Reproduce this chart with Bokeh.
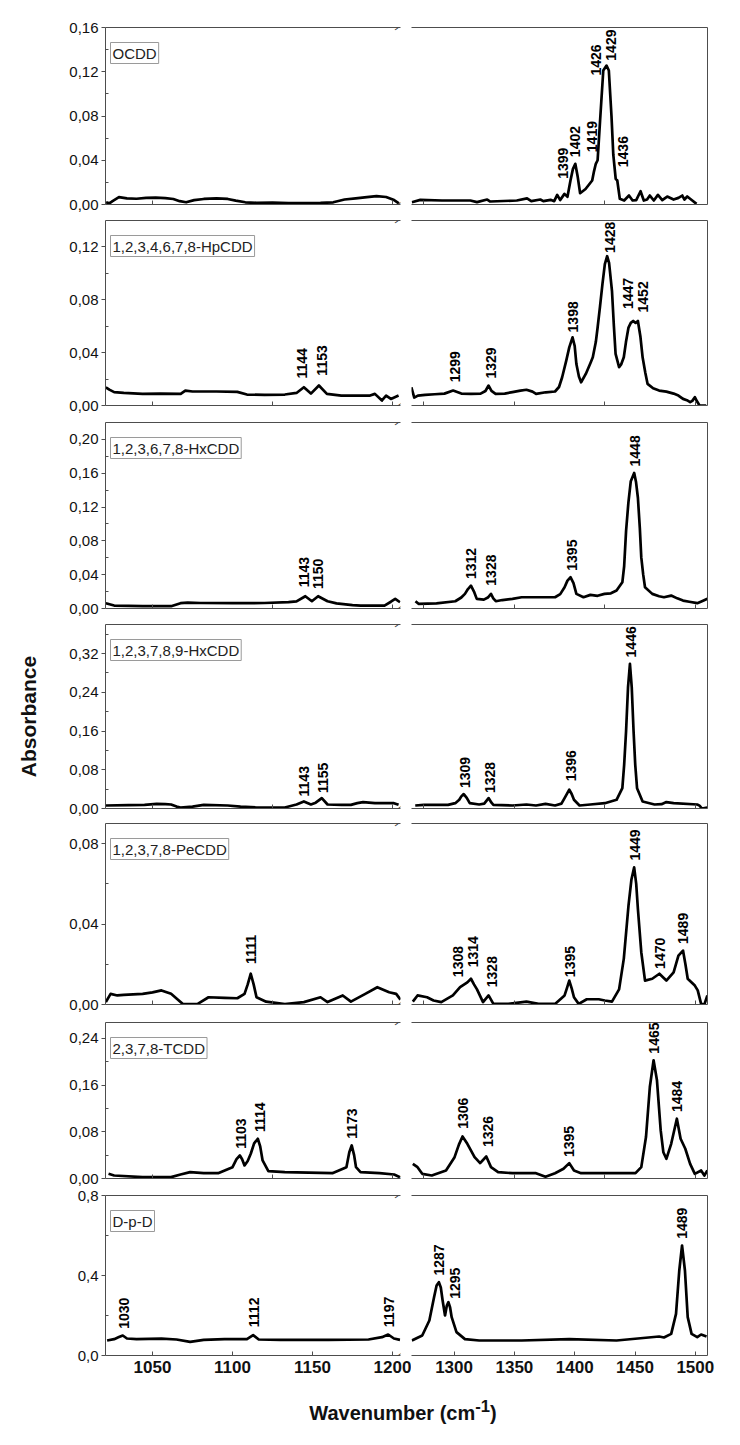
import math
from bokeh.plotting import figure
from bokeh.models import (Range1d, LinearAxis, FixedTicker, CustomJSTickFormatter,
                          Label, ColumnDataSource, Div)
from bokeh.layouts import column, row
from bokeh.core.properties import value
from bokeh.embed import file_html
from bokeh.resources import INLINE

# ------------------------------------------------------------------ data
PANEL_NAMES = ["OCDD", "1,2,3,4,6,7,8-HpCDD", "1,2,3,6,7,8-HxCDD",
               "1,2,3,7,8,9-HxCDD", "1,2,3,7,8-PeCDD", "2,3,7,8-TCDD", "D-p-D"]

# (wavenumber, absorbance); left = 1020-1205, right = 1265-1510
OCDD_LEFT = [(1021, 0.002), (1023, 0.001), (1025, 0.003), (1029, 0.0066), (1034, 0.0055),
             (1040, 0.0052), (1046, 0.006), (1052, 0.0062), (1058, 0.0058), (1063, 0.005),
             (1067, 0.003), (1071, 0.002), (1076, 0.004), (1082, 0.005), (1090, 0.0055),
             (1097, 0.005), (1102, 0.0035), (1108, 0.002), (1115, 0.0015), (1125, 0.0018),
             (1135, 0.0012), (1145, 0.0012), (1155, 0.0015), (1163, 0.002), (1170, 0.0045),
             (1177, 0.0055), (1184, 0.0066), (1190, 0.0075), (1196, 0.0068), (1201, 0.004),
             (1204, 0.001)]
OCDD_RIGHT = [(1265, 0.0021), (1272, 0.0042), (1290, 0.0036), (1313.5, 0.0036), (1319, 0.0021),
              (1327.5, 0.0045), (1330, 0.0027), (1352, 0.0036), (1360.5, 0.0055), (1364, 0.003),
              (1371.5, 0.0045), (1374, 0.003), (1380, 0.0042), (1383, 0.003), (1385.5, 0.0087),
              (1388, 0.004), (1391.5, 0.0096), (1394, 0.007), (1396.5, 0.0217), (1398.5, 0.032),
              (1400.5, 0.0368), (1402.5, 0.025), (1404.5, 0.0102), (1409, 0.014), (1414.5, 0.0217),
              (1416, 0.03), (1417.5, 0.0368), (1419, 0.04), (1421, 0.075), (1423.7, 0.1211),
              (1426.4, 0.1256), (1428.3, 0.1211), (1430.5, 0.08), (1432, 0.045), (1434, 0.0232),
              (1435.3, 0.0217), (1437.4, 0.0051), (1441, 0.0036), (1445, 0.0081), (1448, 0.0036),
              (1451, 0.004), (1454.6, 0.012), (1457.3, 0.0036), (1460, 0.0045), (1462.3, 0.0081),
              (1465.6, 0.0036), (1469, 0.0087), (1472.6, 0.004), (1476.7, 0.0072), (1482, 0.0045),
              (1486, 0.006), (1489.2, 0.0081), (1491, 0.0045), (1493.3, 0.0072), (1497.5, 0.0036),
              (1501, 0.0006)]
OCDD_PEAKS = [("1399", 1390.5, 0.0232), ("1402", 1399.9, 0.0428), ("1419", 1414.5, 0.0473),
              ("1426", 1417.3, 0.1166), ("1429", 1430.3, 0.130), ("1436", 1439.9, 0.0337)]

HPCDD_LEFT = [(1020.8, 0.0138), (1023, 0.012), (1026, 0.0101), (1032, 0.0095), (1043.8, 0.0088),
              (1055, 0.009), (1067.6, 0.0088), (1070.5, 0.0113), (1075, 0.0106), (1090, 0.0106),
              (1103, 0.0103), (1109, 0.0083), (1120, 0.008), (1132.7, 0.0083), (1140, 0.0095),
              (1144.6, 0.0138), (1149, 0.009), (1154, 0.0151), (1159, 0.0088), (1168, 0.0075),
              (1178, 0.0075), (1186, 0.0075), (1189, 0.0088), (1193.4, 0.0038), (1196, 0.0075),
              (1199, 0.005), (1203.8, 0.0075)]
HPCDD_RIGHT = [(1264.6, 0.0138), (1267, 0.006), (1270, 0.0075), (1276, 0.008), (1284, 0.0085),
               (1292, 0.009), (1299.2, 0.0113), (1306, 0.009), (1314, 0.0088), (1322, 0.009),
               (1326, 0.011), (1328.6, 0.0151), (1331, 0.011), (1334.4, 0.0088), (1342, 0.009),
               (1348.4, 0.0101), (1355, 0.0113), (1360, 0.0119), (1365, 0.0105), (1368, 0.0088),
               (1376, 0.01), (1383.7, 0.0106), (1387, 0.014), (1389.6, 0.0214), (1393, 0.034),
               (1395.5, 0.044), (1398.2, 0.0516), (1400, 0.045), (1401.4, 0.0314), (1403.5, 0.022),
               (1405.3, 0.0176), (1409.2, 0.0239), (1413, 0.032), (1415, 0.0365), (1417.5, 0.048),
               (1419, 0.059), (1421, 0.075), (1423, 0.0918), (1425, 0.107), (1426.9, 0.113),
               (1428.5, 0.108), (1430.9, 0.0868), (1432.5, 0.06), (1433.9, 0.039), (1436.8, 0.029),
               (1438.5, 0.031), (1440.7, 0.0365), (1442.5, 0.048), (1444.6, 0.059), (1446.5, 0.0625),
               (1448.5, 0.064), (1450.5, 0.0625), (1452.4, 0.064), (1454.5, 0.052), (1456.3, 0.0365),
               (1458.5, 0.025), (1460.4, 0.0164), (1465, 0.013), (1470, 0.0113), (1476, 0.0105),
               (1482, 0.009), (1486, 0.0075), (1489.8, 0.005), (1493, 0.004), (1495.7, 0.0025),
               (1497.5, 0.0035), (1499.6, 0.0063), (1501.5, 0.003), (1503.5, 0.0), (1509, 0.0)]
HPCDD_PEAKS = [("1144", 1143.7, 0.0204), ("1153", 1155.8, 0.0226), ("1299", 1301, 0.0176),
               ("1329", 1330.6, 0.0204), ("1398", 1398.6, 0.0553), ("1428", 1428.9, 0.1155),
               ("1447", 1444.6, 0.073), ("1452", 1456.3, 0.0704)]

HXCDD678_LEFT = [(1020.8, 0.0063), (1026, 0.0035), (1043.8, 0.0027), (1061.6, 0.0027),
                 (1067.5, 0.0063), (1072, 0.007), (1080, 0.0065), (1100, 0.0063), (1120, 0.0065),
                 (1135, 0.0075), (1140, 0.0085), (1145.5, 0.0145), (1149.6, 0.0086), (1153.5, 0.0145),
                 (1159.4, 0.0086), (1165, 0.006), (1175, 0.004), (1180, 0.0035), (1195, 0.0035),
                 (1199, 0.008), (1201.7, 0.0114), (1204.7, 0.0074)]
HXCDD678_RIGHT = [(1268, 0.0086), (1270.5, 0.0055), (1285.4, 0.006), (1301, 0.0086), (1306, 0.013),
                  (1309, 0.0173), (1311.5, 0.023), (1314, 0.027), (1316.5, 0.02), (1318.8, 0.0114),
                  (1324.7, 0.0105), (1328, 0.013), (1330.6, 0.0173), (1332.5, 0.012), (1334.6, 0.0086),
                  (1340, 0.01), (1348.4, 0.0114), (1356, 0.0133), (1370, 0.0133), (1383.7, 0.0133),
                  (1388, 0.017), (1391.6, 0.0251), (1394, 0.033), (1396.6, 0.0369), (1399, 0.03),
                  (1401.4, 0.0173), (1407.3, 0.0133), (1413, 0.0161), (1419, 0.015), (1424.7, 0.0173),
                  (1430, 0.018), (1434.7, 0.0212), (1439.5, 0.031), (1441, 0.05), (1442.6, 0.0918),
                  (1444.5, 0.125), (1446.5, 0.1506), (1449.3, 0.1604), (1450.8, 0.15), (1452.4, 0.131),
                  (1454, 0.095), (1455.2, 0.0604), (1456.8, 0.04), (1458.3, 0.0251), (1464.3, 0.0173),
                  (1470, 0.0145), (1474, 0.0133), (1480, 0.0153), (1485, 0.012), (1489.8, 0.0094),
                  (1495, 0.008), (1501.6, 0.0063), (1505.5, 0.0086), (1510, 0.0114)]
HXCDD678_PEAKS = [("1143", 1144.6, 0.0251), ("1150", 1153.5, 0.0231), ("1312", 1314, 0.0349),
                  ("1328", 1330.6, 0.027), ("1395", 1397.4, 0.0447), ("1448", 1449.6, 0.168)]

HXCDD789_LEFT = [(1020.8, 0.0062), (1035, 0.007), (1045, 0.0076), (1052.6, 0.0097), (1058, 0.009),
                 (1061.6, 0.0083), (1065, 0.004), (1067.5, 0.0021), (1075, 0.004), (1082, 0.0076),
                 (1097, 0.0062), (1105, 0.004), (1115, 0.0021), (1132.7, 0.0021), (1140, 0.0083),
                 (1144.6, 0.0145), (1149, 0.0083), (1152, 0.012), (1155.8, 0.0215), (1159.4, 0.0083),
                 (1168, 0.0076), (1174, 0.0076), (1178, 0.011), (1181.6, 0.0132), (1189, 0.011),
                 (1200.9, 0.011), (1203.8, 0.0076)]
HXCDD789_RIGHT = [(1267.8, 0.0062), (1275, 0.0076), (1295, 0.0076), (1301, 0.011), (1304.3, 0.018),
                  (1306, 0.025), (1308, 0.0298), (1310.5, 0.022), (1313, 0.011), (1320.8, 0.0083),
                  (1325, 0.01), (1328.6, 0.0215), (1331, 0.012), (1332.6, 0.0076), (1348.4, 0.0062),
                  (1360, 0.0083), (1367.9, 0.0062), (1375.8, 0.0097), (1383.7, 0.0062), (1389, 0.01),
                  (1391.6, 0.0215), (1395.5, 0.0388), (1397.5, 0.03), (1399.4, 0.018), (1404, 0.0062),
                  (1413, 0.0083), (1425, 0.011), (1434.7, 0.018), (1439.5, 0.042), (1441, 0.09),
                  (1442.6, 0.16), (1444.2, 0.25), (1445.8, 0.2985), (1447.3, 0.25), (1448.8, 0.16),
                  (1450.2, 0.09), (1451.7, 0.042), (1456.3, 0.0145), (1466.2, 0.0083), (1472, 0.009),
                  (1476, 0.0132), (1482, 0.011), (1501.6, 0.0083), (1503.5, 0.006), (1505.5, 0.0),
                  (1510, 0.0021)]
HXCDD789_PEAKS = [("1143", 1144.6, 0.0249), ("1155", 1156.4, 0.0319), ("1309", 1309, 0.0423),
                  ("1328", 1329.4, 0.0319), ("1396", 1396.6, 0.0561), ("1446", 1446.5, 0.312)]

PECDD_LEFT = [(1020.8, 0.0012), (1023.8, 0.0053), (1028, 0.0045), (1032, 0.0048), (1043.8, 0.0053),
              (1050, 0.006), (1055.6, 0.007), (1061.6, 0.0053), (1065, 0.003), (1069, 0.0002),
              (1078, 0.0002), (1085, 0.0036), (1095, 0.0033), (1103, 0.0031), (1107.5, 0.0053),
              (1109.5, 0.01), (1111.4, 0.0153), (1113.2, 0.01), (1115, 0.0036), (1121, 0.0014),
              (1132.7, 0.0002), (1144.6, 0.0012), (1155, 0.0036), (1159.4, 0.0012), (1168.9, 0.0045),
              (1174, 0.0014), (1183, 0.0053), (1190.5, 0.0086), (1197.9, 0.0061), (1202.3, 0.0053),
              (1205, 0.0024)]
PECDD_RIGHT = [(1265.8, 0.0014), (1269.7, 0.0045), (1277.6, 0.0036), (1283, 0.002), (1289.4, 0.0012),
               (1299, 0.0045), (1305, 0.0086), (1311, 0.011), (1314, 0.0128), (1316.5, 0.01),
               (1319, 0.0075), (1324, 0.0012), (1328.6, 0.0045), (1332.6, 0.0003), (1345, 0.0003),
               (1360, 0.0014), (1370, 0.0003), (1383.7, 0.0003), (1391.6, 0.0045), (1393.5, 0.008),
               (1395.5, 0.0119), (1397.5, 0.008), (1399.4, 0.0036), (1403.3, 0.0003), (1410, 0.0026),
               (1420, 0.0026), (1425, 0.002), (1430.9, 0.0014), (1436.8, 0.0075), (1440.7, 0.0227),
               (1444.6, 0.0492), (1447, 0.062), (1449.3, 0.0682), (1451, 0.06), (1452.4, 0.0475),
               (1455.2, 0.026), (1458.3, 0.0119), (1464.3, 0.0128), (1470.2, 0.0153), (1476, 0.0119),
               (1482, 0.016), (1486, 0.0243), (1489.8, 0.0268), (1491.8, 0.02), (1493.7, 0.0128),
               (1499.6, 0.0094), (1502, 0.007), (1504.8, 0.0003), (1507.5, 0.0), (1510, 0.0045)]
PECDD_PEAKS = [("1111", 1111.4, 0.0202), ("1308", 1303, 0.0136), ("1314", 1315.6, 0.0185),
               ("1328", 1331.4, 0.0086), ("1395", 1396.3, 0.0136), ("1449", 1450.4, 0.0716),
               ("1470", 1470.9, 0.0177), ("1489", 1489.8, 0.0301)]

TCDD_LEFT = [(1022.5, 0.008), (1026, 0.0051), (1043.8, 0.0023), (1061.6, 0.0023), (1067.5, 0.0068),
             (1073.5, 0.0109), (1082, 0.0091), (1091, 0.0091), (1100, 0.0194), (1102.5, 0.033),
             (1104.6, 0.0394), (1106, 0.033), (1107.5, 0.0223), (1109.5, 0.03), (1111.4, 0.0423),
             (1113.5, 0.06), (1115.8, 0.068), (1117.3, 0.055), (1118.8, 0.0309), (1122.4, 0.0126),
             (1132.7, 0.0109), (1162.4, 0.0091), (1171.2, 0.0194), (1173, 0.045), (1174.5, 0.0566),
             (1176, 0.04), (1177.2, 0.0194), (1180, 0.0109), (1191.9, 0.0091), (1201, 0.0068),
             (1204.7, 0.0023)]
TCDD_RIGHT = [(1265.8, 0.0251), (1269.7, 0.0194), (1273.6, 0.008), (1281.5, 0.0051), (1293.3, 0.0137),
              (1300.4, 0.0365), (1304, 0.058), (1307, 0.072), (1311, 0.0594), (1317, 0.0365),
              (1321.6, 0.0263), (1326.7, 0.0377), (1330.6, 0.0194), (1336.5, 0.0109), (1348.4, 0.0091),
              (1367.9, 0.0091), (1375.8, 0.0029), (1383.7, 0.0091), (1390.7, 0.0166), (1395.5, 0.0263),
              (1399.4, 0.0137), (1405.3, 0.0091), (1420, 0.0091), (1440, 0.0091), (1450.4, 0.0091),
              (1455.2, 0.0194), (1459.1, 0.0709), (1462.3, 0.1566), (1465.4, 0.2023), (1468.2, 0.168),
              (1471.3, 0.0823), (1473.5, 0.045), (1476, 0.0337), (1480, 0.0594), (1484.7, 0.1023),
              (1487.8, 0.068), (1491.7, 0.0509), (1495.7, 0.0251), (1499.6, 0.008), (1504.8, 0.0137),
              (1507.5, 0.0051), (1510, 0.0137)]
TCDD_PEAKS = [("1103", 1105.2, 0.0509), ("1114", 1117, 0.0794), ("1173", 1174.8, 0.068),
              ("1306", 1307, 0.0851), ("1326", 1328, 0.0537), ("1395", 1395.5, 0.0366),
              ("1465", 1465.4, 0.2137), ("1484", 1485.1, 0.1137)]

DPD_LEFT = [(1021.6, 0.075), (1026, 0.0817), (1029, 0.092), (1031.4, 0.1), (1034, 0.085),
            (1040, 0.082), (1055.6, 0.0847), (1065, 0.08), (1073.5, 0.0683), (1082, 0.0783),
            (1095, 0.0817), (1109, 0.0817), (1112.9, 0.1017), (1116.4, 0.08), (1130, 0.0783),
            (1160, 0.0783), (1185, 0.08), (1193.4, 0.0917), (1197.3, 0.105), (1200.9, 0.085),
            (1204.7, 0.0783)]
DPD_RIGHT = [(1265, 0.075), (1273.6, 0.1), (1279.5, 0.175), (1283.4, 0.2917), (1285.5, 0.35),
             (1287.4, 0.3667), (1289, 0.34), (1290.5, 0.275), (1292.5, 0.2), (1294, 0.25),
             (1295.3, 0.2667), (1296.7, 0.24), (1298, 0.1917), (1302, 0.1167), (1309, 0.0817),
             (1320.8, 0.075), (1356, 0.075), (1395.5, 0.0817), (1434.7, 0.075), (1470, 0.095),
             (1474, 0.09), (1480, 0.1083), (1484, 0.2083), (1486.7, 0.425), (1489, 0.55),
             (1491.4, 0.425), (1493.7, 0.1917), (1496.9, 0.1083), (1501.6, 0.0917), (1504.8, 0.105),
             (1509.3, 0.095)]
DPD_PEAKS = [("1030", 1032, 0.1333), ("1112", 1113.5, 0.1417), ("1197", 1197.9, 0.1417),
             ("1287", 1287.4, 0.40), ("1295", 1301, 0.2833), ("1489", 1489, 0.5833)]

# axis values
X_LEFT_RANGE = (1020.6, 1205.0)
X_RIGHT_RANGE = (1264.7, 1510.1)
Y_MAX = [0.16, 0.14, 0.22, 0.38, 0.09, 0.267, 0.8]
Y_TICKS = [[0, 0.04, 0.08, 0.12, 0.16], [0, 0.04, 0.08, 0.12], [0, 0.04, 0.08, 0.12, 0.16, 0.20],
           [0, 0.08, 0.16, 0.24, 0.32], [0, 0.04, 0.08], [0, 0.08, 0.16, 0.24], [0, 0.4, 0.8]]
Y_MINOR = [[0.02, 0.06, 0.10, 0.14], [0.02, 0.06, 0.10], [0.02, 0.06, 0.10, 0.14, 0.18],
           [0.04, 0.12, 0.20, 0.28, 0.36], [0.02, 0.06], [0.04, 0.12, 0.20], [0.2, 0.6]]
Y_DECIMALS = [2, 2, 2, 2, 2, 2, 1]
X_TICKS_LEFT = [[1050, 1200]] + [[1050, 1125, 1200]] * 5 + [[1050, 1100, 1150, 1200]]
X_TICKS_RIGHT = [[1275, 1425]] + [[1275, 1350, 1425, 1500]] * 5 + [[1300, 1350, 1400, 1450, 1500]]

LEFTS = [OCDD_LEFT, HPCDD_LEFT, HXCDD678_LEFT, HXCDD789_LEFT, PECDD_LEFT, TCDD_LEFT, DPD_LEFT]
RIGHTS = [OCDD_RIGHT, HPCDD_RIGHT, HXCDD678_RIGHT, HXCDD789_RIGHT, PECDD_RIGHT, TCDD_RIGHT, DPD_RIGHT]
PEAKS = [OCDD_PEAKS, HPCDD_PEAKS, HXCDD678_PEAKS, HXCDD789_PEAKS, PECDD_PEAKS, TCDD_PEAKS, DPD_PEAKS]

# ------------------------------------------------------------------ layout / style
FONT = "Liberation Sans"
FRAME = "#4d4d4d"
FRAME_H = [177, 185, 186, 184, 181, 156, 160]
TOP_B = [27, 7, 8, 7, 7, 9, 8]
BOT_B = [9, 9, 9, 8, 9, 9, 30]
LEFT_FW, RIGHT_FW = 295, 296
LEFT_B, GAP_B, RIGHT_B = 105, 11, 25


def bare_axis(ax):
    ax.ticker = FixedTicker(ticks=[], minor_ticks=[])
    ax.major_label_standoff = 0
    ax.major_tick_in = 0
    ax.major_tick_out = 0
    ax.minor_tick_in = 0
    ax.minor_tick_out = 0
    ax.axis_line_color = FRAME
    ax.axis_line_width = 1


def bottom_axis(ax, ticks, last):
    ax.axis_line_color = FRAME
    ax.major_tick_line_color = FRAME
    ax.minor_tick_line_color = FRAME
    if last:
        ax.ticker = FixedTicker(ticks=ticks, minor_ticks=[])
        ax.major_tick_in = 4
        ax.major_tick_out = 0
        ax.major_label_text_font = FONT
        ax.major_label_text_font_size = "17px"
        ax.major_label_text_font_style = "bold"
        ax.major_label_text_color = "#111111"
        ax.major_label_standoff = 5
    else:
        # unlabeled panels: the tick positions are drawn as inward (label-free) ticks
        ax.ticker = FixedTicker(ticks=[], minor_ticks=ticks)
        ax.major_tick_in = 0
        ax.major_tick_out = 0
        ax.minor_tick_in = 4
        ax.minor_tick_out = 0
        ax.major_label_standoff = 0


def new_fig(xr, yr, fw, fh, top, bot, left, right, yside):
    p = figure(x_range=Range1d(*xr), y_range=Range1d(*yr), frame_width=fw, frame_height=fh,
               min_border_top=top, min_border_bottom=bot, min_border_left=left,
               min_border_right=right, y_axis_location=yside, x_axis_location="below",
               output_backend="svg", toolbar_location=None, tools="")
    p.grid.visible = False
    p.outline_line_color = None
    p.background_fill_color = "white"
    p.border_fill_color = "white"
    top_ax = LinearAxis()
    bare_axis(top_ax)
    p.add_layout(top_ax, "above")
    return p


def draw_peaks(p, peaks):
    src = ColumnDataSource(dict(x=[v[1] for v in peaks], y=[v[2] for v in peaks],
                                t=[v[0] for v in peaks]))
    p.text(x="x", y="y", text="t", source=src, angle=math.pi / 2, text_align="left",
           text_baseline="middle", text_font=value(FONT), text_font_size="14px",
           text_font_style="bold", text_color="black")


rows = []
n = len(PANEL_NAMES)
for i in range(n):
    last = i == n - 1
    yr = (0.0, Y_MAX[i])
    pl = new_fig(X_LEFT_RANGE, yr, LEFT_FW, FRAME_H[i], TOP_B[i], BOT_B[i], LEFT_B, GAP_B, "left")
    pr = new_fig(X_RIGHT_RANGE, yr, RIGHT_FW, FRAME_H[i], TOP_B[i], BOT_B[i], 0, RIGHT_B, "right")

    # left y axis
    ya = pl.left[0]
    ya.ticker = FixedTicker(ticks=Y_TICKS[i], minor_ticks=Y_MINOR[i])
    ya.formatter = CustomJSTickFormatter(
        code="return tick.toFixed(%d).replace('.', ',');" % Y_DECIMALS[i])
    ya.axis_line_color = FRAME
    ya.major_tick_line_color = FRAME
    ya.minor_tick_line_color = FRAME
    ya.major_tick_out = 4
    ya.major_tick_in = 0
    ya.minor_tick_out = 0
    ya.minor_tick_in = 3
    ya.major_label_standoff = 3
    ya.major_label_text_font = FONT
    ya.major_label_text_font_size = "15px"
    ya.major_label_text_color = "#111111"
    if i == 3:
        ya.axis_label = "Absorbance"
        ya.axis_label_text_font = FONT
        ya.axis_label_text_font_size = "21px"
        ya.axis_label_text_font_style = "bold"
        ya.axis_label_text_color = "#111111"
        ya.axis_label_standoff = 26

    bare_axis(pr.right[0])
    bottom_axis(pl.below[0], X_TICKS_LEFT[i], last)
    bottom_axis(pr.below[0], X_TICKS_RIGHT[i], last)

    # spectra
    lx, ly = zip(*LEFTS[i])
    rx, ry = zip(*RIGHTS[i])
    pl.line(list(lx), list(ly), line_color="black", line_width=2.7, line_join="round")
    pr.line(list(rx), list(ry), line_color="black", line_width=2.7, line_join="round")

    # peak labels
    draw_peaks(pl, [pk for pk in PEAKS[i] if pk[1] < 1210])
    draw_peaks(pr, [pk for pk in PEAKS[i] if pk[1] >= 1210])

    # sample name box
    pl.add_layout(Label(x=X_LEFT_RANGE[0], y=Y_MAX[i], x_offset=5, y_offset=-15,
                        text=PANEL_NAMES[i], text_font=FONT, text_font_size="15px",
                        text_color="#222222", text_align="left", text_baseline="top",
                        border_line_color="#9a9a9a", border_line_width=1,
                        background_fill_color="white", padding=2))

    # axis-break marks "//" on the bottom and top edges, in the gap
    for yedge in (0.0, Y_MAX[i]):
        for c in (-2, 5):
            pl.add_layout(Label(x=X_LEFT_RANGE[1], y=yedge, x_offset=c, y_offset=0,
                                text="/", angle=-0.66, text_align="center",
                                text_baseline="middle", text_font=FONT,
                                text_font_size="11px", text_color="#333333"))

    rows.append(row(pl, pr))

xlabel = Div(text="Wavenumber (cm<sup>-1</sup>)", width=658, margin=(10, 0, 0, 74),
             styles={"font-family": "Liberation Sans, Arial, sans-serif", "font-size": "20px",
                     "font-weight": "bold", "text-align": "center", "color": "#111111"})

layout = column(*rows, xlabel)
open("out.html", "w").write(file_html(layout, INLINE))
